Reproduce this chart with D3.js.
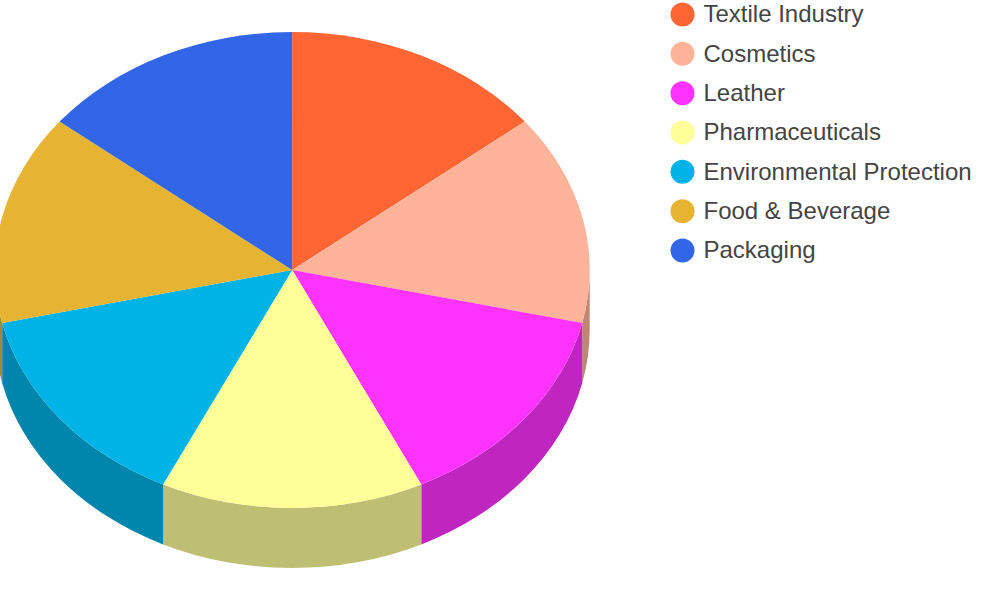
<!DOCTYPE html>
<html>
<head>
<meta charset="utf-8">
<script src="https://cdn.jsdelivr.net/npm/d3@7"></script>
<style>
    html, body { margin: 0; padding: 0; background: #fff; overflow: hidden; }
</style>
</head>
<body>
<div id="chart-area"></div>
<script>
var categories = ["Textile Industry", "Cosmetics", "Leather", "Pharmaceuticals",
    "Environmental Protection", "Food & Beverage", "Packaging"];
var values = [1, 1, 1, 1, 1, 1, 1];
var colors = ["#FF6633", "#FFB399", "#FF33FF", "#FFFF99", "#00B3E6", "#E6B333", "#3366E6"];

var width = 1000,
    height = 600;

var cx = 292.2, cy = 270,
    rx = 297.5, ry = 238,
    depth = 60;

var svg = d3.select("#chart-area")
    .append("svg")
        .attr("width", width)
        .attr("height", height)
        .style("display", "block");

var pie = d3.pie().sort(null).value(function(d){ return d.value; });

var slices = pie(categories.map(function(c, i){
    return { name: c, value: values[i], color: colors[i] };
}));

var arc = d3.arc().innerRadius(0).outerRadius(rx);

function px(a){ return rx * Math.sin(a); }
function py(a){ return -ry * Math.cos(a); }

function darker(c){
    var k = d3.rgb(c);
    return d3.rgb(k.r * 0.75, k.g * 0.75, k.b * 0.75).formatHex();
}

// only the part of the rim on the front half shows
function sidePath(d){
    var a0 = Math.max(d.startAngle, Math.PI / 2),
        a1 = Math.min(d.endAngle, 3 * Math.PI / 2);
    if (a1 <= a0) return null;
    return "M" + px(a0) + "," + py(a0)
        + "A" + rx + "," + ry + " 0 0 1 " + px(a1) + "," + py(a1)
        + "L" + px(a1) + "," + (py(a1) + depth)
        + "A" + rx + "," + ry + " 0 0 0 " + px(a0) + "," + (py(a0) + depth)
        + "Z";
}

var pieG = svg.append("g")
    .attr("transform", "translate(" + cx + ", " + cy + ")");

// Sides
pieG.selectAll("path.side")
    .data(slices.filter(function(d){ return sidePath(d) !== null; }))
    .enter()
    .append("path")
        .attr("class", "side")
        .attr("d", sidePath)
        .attr("fill", function(d){ return darker(d.data.color); });

// Top
pieG.append("g")
    .attr("transform", "scale(1, " + (ry / rx) + ")")
    .selectAll("path.top")
    .data(slices)
    .enter()
    .append("path")
        .attr("class", "top")
        .attr("d", arc)
        .attr("fill", function(d){ return d.data.color; });

// Legend
var y = d3.scalePoint()
    .domain(categories)
    .range([14.5, 250.5]);

var legend = svg.selectAll("g.legend")
    .data(categories)
    .enter()
    .append("g")
        .attr("class", "legend")
        .attr("transform", function(d){ return "translate(682.5, " + y(d) + ")"; });

legend.append("circle")
    .attr("r", 12)
    .attr("fill", function(d, i){ return colors[i]; });

legend.append("text")
    .attr("x", 21)
    .attr("dy", "0.32em")
    .attr("font-family", "'Liberation Sans', Arial, sans-serif")
    .attr("font-size", "24px")
    .attr("fill", "#444")
    .text(function(d){ return d; });
</script>
</body>
</html>
